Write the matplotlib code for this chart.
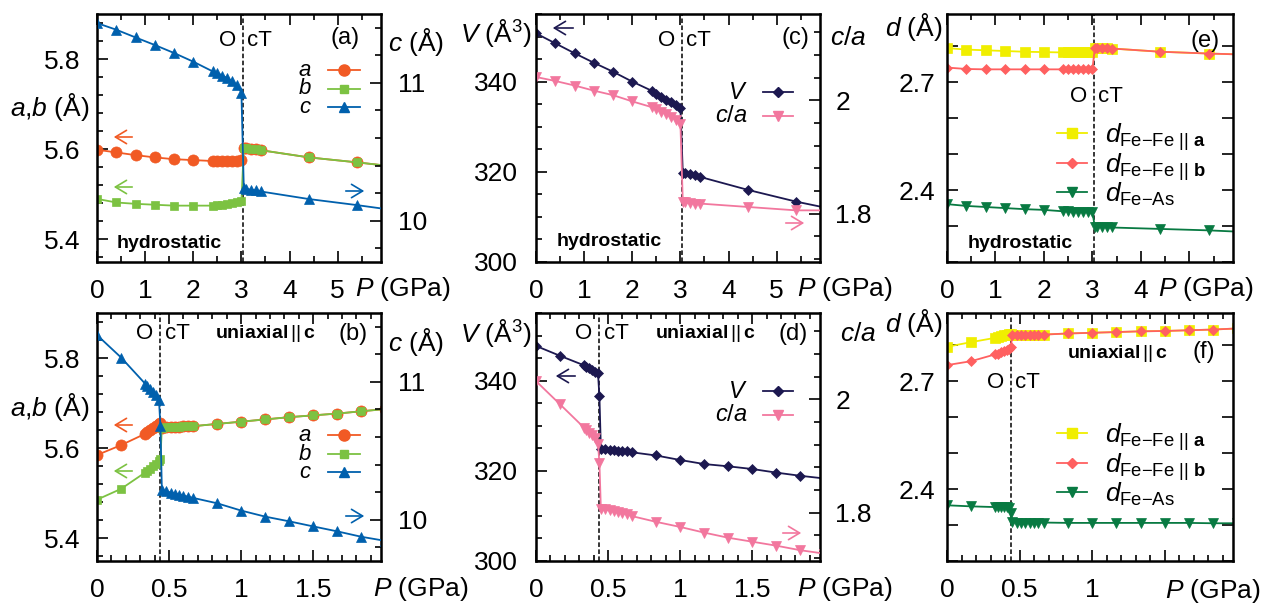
import matplotlib
matplotlib.use("Agg")
import matplotlib.pyplot as plt
from matplotlib.lines import Line2D
from matplotlib.patches import FancyArrowPatch
from matplotlib.ticker import MultipleLocator

plt.rcParams['font.family'] = ['Liberation Sans', 'DejaVu Sans']
plt.rcParams['mathtext.fontset'] = 'custom'
plt.rcParams['mathtext.rm'] = 'Liberation Sans'
plt.rcParams['mathtext.it'] = 'Liberation Sans:italic'
plt.rcParams['mathtext.bf'] = 'Liberation Sans:bold'

# ---- hydrostatic pressure (panels a, c, e); last point lies beyond the x range
P_hyd = [0.0, 0.4, 0.8, 1.2, 1.6, 2.0, 2.4, 2.5, 2.6, 2.7, 2.8, 2.9, 3.0,
         3.05, 3.1, 3.2, 3.3, 3.4, 4.4, 5.4, 6.4]
a_hyd = [5.599, 5.593, 5.587, 5.582, 5.578, 5.576, 5.574, 5.574, 5.574, 5.574, 5.574, 5.575, 5.576,
         5.603, 5.602, 5.601, 5.600, 5.598, 5.582, 5.571, 5.559]
b_hyd = [5.490, 5.482, 5.479, 5.477, 5.475, 5.475, 5.475, 5.476, 5.477, 5.478, 5.480, 5.482, 5.485,
         5.603, 5.602, 5.601, 5.600, 5.598, 5.582, 5.571, 5.559]
c_hyd = [11.434, 11.386, 11.330, 11.275, 11.217, 11.154, 11.084, 11.072, 11.053, 11.036, 11.012, 10.988, 10.930,
         10.234, 10.230, 10.225, 10.220, 10.212, 10.157, 10.113, 10.065]
V_hyd = [350.7, 348.5, 346.3, 344.2, 342.2, 340.0, 338.0, 337.2, 336.6, 336.0, 335.4, 334.8, 334.1,
         319.8, 319.7, 319.5, 319.3, 318.9, 316.0, 313.4, 311.2]
ca_hyd = [2.041, 2.034, 2.026, 2.017, 2.009, 1.998, 1.988, 1.984, 1.980, 1.976, 1.971, 1.966, 1.959,
          1.821, 1.820, 1.819, 1.818, 1.818, 1.812, 1.806, 1.806]
dA_hyd = [2.795, 2.791, 2.789, 2.787, 2.785, 2.784, 2.783, 2.783, 2.783, 2.783, 2.783, 2.783, 2.783,
          2.796, 2.796, 2.796, 2.795, 2.794, 2.785, 2.780, 2.776]
dB_hyd = [2.741, 2.737, 2.736, 2.736, 2.736, 2.736, 2.736, 2.736, 2.736, 2.736, 2.736, 2.737, 2.737,
          2.796, 2.796, 2.796, 2.795, 2.794, 2.785, 2.780, 2.776]
dAs_hyd = [2.361, 2.356, 2.353, 2.350, 2.347, 2.345, 2.341, 2.341, 2.340, 2.340, 2.339, 2.339, 2.338,
           2.298, 2.297, 2.297, 2.296, 2.296, 2.292, 2.288, 2.282]
Pc_hyd = 3.03

# ---- uniaxial pressure || c (panels b, d, f)
P_uni = [0.0, 0.167, 0.333, 0.35, 0.37, 0.39, 0.41, 0.43, 0.44,
         0.45, 0.48, 0.51, 0.54, 0.57, 0.60, 0.63, 0.667, 0.833, 1.0, 1.167, 1.333, 1.5, 1.667, 1.833, 2.0]
a_uni = [5.585, 5.607, 5.632, 5.636, 5.640, 5.645, 5.649, 5.653, 5.656,
         5.646, 5.647, 5.648, 5.648, 5.648, 5.649, 5.649, 5.649, 5.654, 5.659, 5.664, 5.669, 5.673, 5.677, 5.682, 5.687]
b_uni = [5.486, 5.510, 5.546, 5.550, 5.554, 5.560, 5.565, 5.571, 5.577,
         5.646, 5.647, 5.648, 5.648, 5.648, 5.649, 5.649, 5.649, 5.654, 5.659, 5.664, 5.669, 5.673, 5.677, 5.682, 5.687]
c_uni = [11.340, 11.177, 10.988, 10.971, 10.951, 10.927, 10.903, 10.867, 10.677,
         10.216, 10.206, 10.197, 10.189, 10.182, 10.175, 10.167, 10.158, 10.119, 10.066, 10.022, 9.988, 9.951, 9.915, 9.876, 9.846]
V_uni = [347.7, 345.5, 343.4, 343.1, 342.7, 342.3, 341.9, 341.6, 336.5,
         324.9, 324.8, 324.6, 324.6, 324.5, 324.3, 324.3, 324.1, 323.4, 322.4, 321.5, 321.0, 320.4, 319.6, 318.9, 318.3]
ca_uni = [2.032, 1.991, 1.950, 1.946, 1.941, 1.937, 1.931, 1.922, 1.887,
          1.807, 1.806, 1.804, 1.803, 1.801, 1.799, 1.798, 1.794, 1.784, 1.775, 1.765, 1.756, 1.749, 1.742, 1.734, 1.728]
dA_uni = [2.796, 2.809, 2.821, 2.824, 2.826, 2.828, 2.830, 2.831, 2.832,
          2.830, 2.830, 2.830, 2.830, 2.830, 2.830, 2.830, 2.830, 2.833, 2.835, 2.837, 2.839, 2.840, 2.842, 2.844, 2.847]
dB_uni = [2.745, 2.756, 2.775, 2.777, 2.781, 2.784, 2.788, 2.791, 2.796,
          2.830, 2.830, 2.830, 2.830, 2.830, 2.830, 2.830, 2.830, 2.833, 2.835, 2.837, 2.839, 2.840, 2.842, 2.844, 2.847]
dAs_uni = [2.355, 2.352, 2.350, 2.350, 2.350, 2.349, 2.349, 2.347, 2.334,
           2.309, 2.307, 2.307, 2.307, 2.307, 2.307, 2.307, 2.307, 2.306, 2.306, 2.306, 2.306, 2.306, 2.306, 2.305, 2.305]
Pc_uni = 0.44

C_A, C_B, C_C = '#f15a24', '#7cc242', '#0060ad'
C_V, C_CA = '#1c1850', '#f2779e'
C_DA, C_DB, C_DAS = '#f0ee00', '#ff6060', '#087a42'

W, H = 1261, 606
FS = 19
fig = plt.figure(figsize=(W / 100, H / 100), dpi=100)


def fxy(x, y):
    return (x / W, 1 - y / H)


def panel(x0, y0, x1, y1):
    return fig.add_axes([x0 / W, 1 - y1 / H, (x1 - x0) / W, (y1 - y0) / H])


def txt(x, y, s, **kw):
    kw.setdefault('va', 'center')
    fig.text(x / W, 1 - y / H, s, **kw)


def arrow(xt, xh, y, color):
    fig.add_artist(FancyArrowPatch(fxy(xt, y), fxy(xh, y), transform=fig.transFigure,
                                   arrowstyle='->,head_length=0.5,head_width=0.3',
                                   mutation_scale=16, color=color, lw=1.2))


def key(x0, x1, y, color, marker, ms, label, tx, ha, dy, fs):
    fig.add_artist(Line2D([x0 / W, x1 / W], [1 - y / H] * 2, transform=fig.transFigure,
                          color=color, lw=1.3))
    fig.add_artist(Line2D([(x0 + x1) / 2 / W], [1 - y / H], transform=fig.transFigure,
                          color=color, marker=marker, ms=ms, ls='none'))
    fig.text(tx / W, 1 - (y + dy) / H, label, ha=ha, va='baseline', fontsize=fs)


def style(ax, right=False, lpad=8.5):
    ax.tick_params(which='both', direction='in', top=True, bottom=True, left=True, right=right,
                   width=1.2, labelsize=FS)
    ax.tick_params(which='major', length=8)
    ax.tick_params(which='minor', length=4)
    ax.tick_params(axis='x', pad=12)
    ax.tick_params(axis='y', pad=lpad)
    for s in ax.spines.values():
        s.set_linewidth(1.8)


def style_twin(ax2, pad):
    ax2.tick_params(which='both', direction='in', left=False, right=True, width=1.2,
                    labelsize=FS, pad=pad)
    ax2.tick_params(which='major', length=8)
    ax2.tick_params(which='minor', length=4)


def series(ax, x, y, color, marker, ms):
    ax.plot(x, y, color=color, marker=marker, ms=ms, lw=1.3, mec=color, mew=0.5)


def phase_marks(ax, pc, yfrac):
    ax.axvline(pc, color='black', ls=(0, (3, 1.6)), lw=1.1, zorder=1)
    ax.annotate('O', xy=(pc, yfrac), xycoords=ax.get_xaxis_transform(), xytext=(-5, 0),
                textcoords='offset points', ha='right', va='center', fontsize=16)
    ax.annotate('cT', xy=(pc, yfrac), xycoords=ax.get_xaxis_transform(), xytext=(3, 0),
                textcoords='offset points', ha='left', va='center', fontsize=16)


A = panel(97, 14, 381, 262)
B = panel(97, 313, 381, 561)
Cp = panel(536, 14, 820, 262)
D = panel(536, 313, 820, 561)
E = panel(947, 14, 1233, 262)
F = panel(947, 313, 1233, 561)

# ---------- lattice constants
for ax, P, a, b, c, pc, yf, xmax, dy in [
        (A, P_hyd, a_hyd, b_hyd, c_hyd, Pc_hyd, 0.895, 5.9, 0),
        (B, P_uni, a_uni, b_uni, c_uni, Pc_uni, 0.919, 1.97, 300)]:
    style(ax, lpad=12)
    phase_marks(ax, pc, yf)
    series(ax, P, a, C_A, 'o', 8)
    series(ax, P, b, C_B, 's', 6)
    ax.set_ylim(5.35, 5.9)
    ax.set_yticks([5.4, 5.6, 5.8])
    ax.yaxis.set_minor_locator(MultipleLocator(0.04))
    ax2 = ax.twinx()
    style_twin(ax2, 12)
    series(ax2, P, c, C_C, '^', 7.5)
    ax2.set_ylim(9.7, 11.5)
    ax2.set_yticks([10, 11])
    ax2.yaxis.set_minor_locator(MultipleLocator(0.2))
    ax.set_xlim(0, xmax)
    txt(10, 107 + dy, r'$a$,$b$ (Å)', ha='left', fontsize=FS)
    txt(388, 42 + dy, r'$c$ (Å)', ha='left', fontsize=FS)

# ---------- volume and c/a
for ax, P, V, ca, pc, yf, xmax in [
        (Cp, P_hyd, V_hyd, ca_hyd, Pc_hyd, 0.895, 5.9),
        (D, P_uni, V_uni, ca_uni, Pc_uni, 0.919, 1.97)]:
    style(ax, lpad=13)
    phase_marks(ax, pc, yf)
    series(ax, P, V, C_V, 'D', 5.5)
    ax.set_ylim(300, 355)
    ax.set_yticks([300, 320, 340])
    ax.yaxis.set_minor_locator(MultipleLocator(5))
    ax2 = ax.twinx()
    style_twin(ax2, 11)
    series(ax2, P, ca, C_CA, 'v', 7.5)
    ax2.set_ylim(1.715, 2.152)
    ax2.set_yticks([1.8, 2.0])
    ax2.set_yticklabels(['1.8', '2'])
    ax2.yaxis.set_minor_locator(MultipleLocator(0.04))
    ax.set_xlim(0, xmax)

# ---------- interatomic distances
for ax, P, dA, dB, dAs, pc, yf, xmax in [
        (E, P_hyd, dA_hyd, dB_hyd, dAs_hyd, Pc_hyd, 0.667, 5.9),
        (F, P_uni, dA_uni, dB_uni, dAs_uni, Pc_uni, 0.718, 1.97)]:
    style(ax, right=True, lpad=8.5)
    phase_marks(ax, pc, yf)
    series(ax, P, dA, C_DA, 's', 7)
    series(ax, P, dB, C_DB, 'D', 5.5)
    series(ax, P, dAs, C_DAS, 'v', 7.5)
    ax.set_xlim(0, xmax)
    ax.set_ylim(2.2, 2.89)
    ax.yaxis.set_major_locator(MultipleLocator(0.3))
    ax.yaxis.set_minor_locator(MultipleLocator(0.1))
    ax.tick_params(axis='y', which='minor', length=8)

# x ticks
for ax in (A, Cp):
    ax.set_xticks([0, 1, 2, 3, 4, 5])
    ax.set_xticklabels(['0', '1', '2', '3', '4', '5'])
    ax.xaxis.set_minor_locator(MultipleLocator(0.5))
E.set_xticks([0, 1, 2, 3, 4, 5])
E.set_xticklabels(['0', '1', '2', '3', '4', ''])
E.xaxis.set_minor_locator(MultipleLocator(0.5))
for ax in (B, D):
    ax.set_xticks([0, 0.5, 1, 1.5])
    ax.set_xticklabels(['0', '0.5', '1', '1.5'])
    ax.xaxis.set_minor_locator(MultipleLocator(0.1))
F.set_xticks([0, 0.5, 1, 1.5])
F.set_xticklabels(['0', '0.5', '1', ''])
F.xaxis.set_minor_locator(MultipleLocator(0.1))

# axis titles
for x, y in [(355, 289), (797, 289), (1158, 289), (373, 589), (797, 589), (1165, 591)]:
    txt(x, y, r'$P$ (GPa)', ha='left', fontsize=FS)
txt(460, 33, r'$V$ (Å$^3$)', ha='left', fontsize=FS)
txt(460, 333, r'$V$ (Å$^3$)', ha='left', fontsize=FS)
txt(830, 38, r'$c/a$', ha='left', fontsize=FS)
txt(840, 334, r'$c/a$', ha='left', fontsize=FS)
txt(885, 27, r'$d$ (Å)', ha='left', fontsize=FS)
txt(885, 323, r'$d$ (Å)', ha='left', fontsize=FS)

# panel tags and conditions
for x, y, s in [(360, 38, '(a)'), (368, 334, '(b)'), (809, 38, '(c)'),
                (808, 334, '(d)'), (1220, 41, '(e)'), (1215, 352, '(f)')]:
    txt(x, y, s, ha='right', fontsize=17)
for x, y in [(117, 243), (557, 241), (968, 244)]:
    txt(x, y, 'hydrostatic', ha='left', fontsize=14, fontweight='bold')
for x, y in [(215, 334), (655, 333), (1067, 353)]:
    txt(x, y, r'$\mathbf{uniaxial}\,\mathrm{||}\,\mathbf{c}$', ha='left', fontsize=14)

# axis arrows
for y, col in [(137, C_A), (187, C_B), (425, C_A), (471, C_B)]:
    arrow(135, 111, y, col)
arrow(343, 367, 191, C_C)
arrow(343, 367, 516, C_C)
arrow(576, 550, 28, C_V)
arrow(783, 807, 223, C_CA)
arrow(578, 553, 376, C_V)
arrow(780, 804, 533, C_CA)

# keys
for y0 in (70, 435):
    key(328, 360, y0, C_A, 'o', 8, r'$a$', 312, 'right', 6, 16)
    key(328, 360, y0 + 18.5, C_B, 's', 6, r'$b$', 312, 'right', 6, 16)
    key(328, 360, y0 + 37, C_C, '^', 7.5, r'$c$', 312, 'right', 6, 16)
for yv in (92, 391):
    key(763, 793, yv, C_V, 'D', 5.5, r'$V$', 748, 'right', 7, 17)
    key(763, 793, yv + 24, C_CA, 'v', 7.5, r'$c/a$', 748, 'right', 6, 17)
for yd in (133, 433):
    key(1057, 1087, yd, C_DA, 's', 7, r'$d_{\mathrm{Fe{-}Fe}\ \mathrm{||}\ \mathbf{a}}$', 1105, 'left', 10, 19)
    key(1057, 1087, yd + 30, C_DB, 'D', 5.5, r'$d_{\mathrm{Fe{-}Fe}\ \mathrm{||}\ \mathbf{b}}$', 1105, 'left', 10, 19)
    key(1057, 1087, yd + 59, C_DAS, 'v', 7.5, r'$d_{\mathrm{Fe{-}As}}$', 1105, 'left', 10, 19)

fig.savefig('out.png', dpi=100)
